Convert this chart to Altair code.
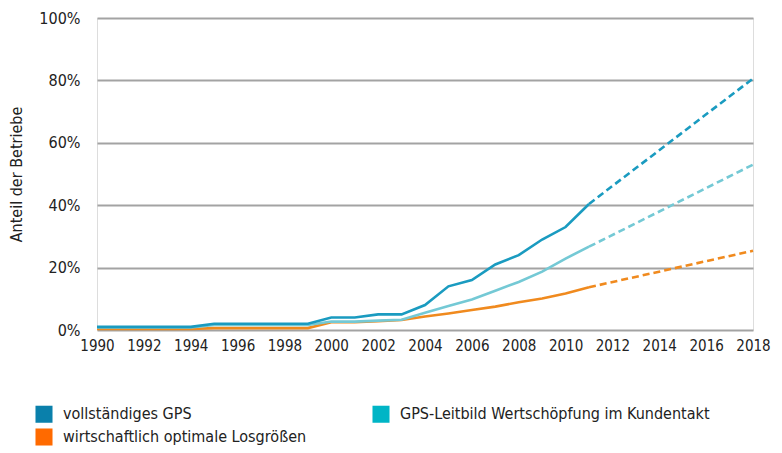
import altair as alt
import pandas as pd

years = list(range(1990, 2012))
gps_full = [1, 1, 1, 1, 1, 2, 2, 2, 2, 2, 4, 4, 5, 5, 8, 14, 16, 21, 24, 29, 33, 40.4]
gps_leit = [0.8, 0.8, 0.8, 0.8, 0.8, 1.6, 1.6, 1.6, 1.6, 1.6, 2.7, 2.7, 3.0, 3.3, 5.5, 7.7, 9.8, 12.6, 15.4, 18.7, 22.9, 26.7]
los = [0.3, 0.3, 0.3, 0.3, 0.3, 0.6, 0.6, 0.6, 0.6, 0.6, 2.5, 2.5, 2.8, 3.2, 4.3, 5.3, 6.4, 7.5, 8.9, 10.1, 11.7, 13.7]

proj_years = [2011, 2018]
gps_full_proj = [40.4, 80.6]
gps_leit_proj = [26.7, 53.0]
los_proj = [13.7, 25.4]

series = ["vollständiges GPS", "GPS-Leitbild Wertschöpfung im Kundentakt", "wirtschaftlich optimale Losgrößen"]
line_colors = ["#1a9bc0", "#74c9d5", "#f08a1e"]
swatch_colors = ["#0a80ab", "#00b5c6", "#ff6a00"]

rows = []
for name, vals in zip(series, [gps_full, gps_leit, los]):
    for y, v in zip(years, vals):
        rows.append({"year": y, "value": v, "series": name, "seg": "hist"})
for name, vals in zip(series, [gps_full_proj, gps_leit_proj, los_proj]):
    for y, v in zip(proj_years, vals):
        rows.append({"year": y, "value": v, "series": name, "seg": "proj"})
df = pd.DataFrame(rows)

FONT = "'DejaVu Sans Condensed', 'Roboto Condensed', 'Liberation Sans Narrow', Roboto, sans-serif"
FS = 16

x_enc = alt.X("year:Q", scale=alt.Scale(domain=[1990, 2018], nice=False, zero=False),
              axis=alt.Axis(values=list(range(1990, 2019, 2)), format="d", title=None,
                            grid=False, domain=False, ticks=False, labelPadding=8,
                            labelFontSize=15, labelFont=FONT, labelColor="#222",
                            labelFlush=False, labelOverlap=False))
y_enc = alt.Y("value:Q", scale=alt.Scale(domain=[0, 100], nice=False),
              axis=alt.Axis(values=[0, 20, 40, 60, 80, 100], labelExpr="datum.value + '%'",
                            title="Anteil der Betriebe", titleFontSize=FS, titleFont=FONT,
                            titleFontWeight="normal", titleColor="#222", titlePadding=14,
                            labelFontSize=FS, labelFont=FONT, labelColor="#222", labelPadding=17,
                            grid=True, gridColor="#a3a3a3", gridWidth=2.2,
                            domain=False, ticks=False))
stroke_enc = alt.Stroke("series:N", scale=alt.Scale(domain=series, range=line_colors), legend=None)

layers = []
for name in reversed(series):
    base = alt.Chart(df).transform_filter(alt.datum.series == name)
    layers.append(base.transform_filter(alt.datum.seg == "hist").mark_line(strokeWidth=2.6).encode(
        x=x_enc, y=y_enc, stroke=stroke_enc))
    layers.append(base.transform_filter(alt.datum.seg == "proj").mark_line(strokeWidth=2.6, strokeDash=[7, 4]).encode(
        x=x_enc, y=y_enc, stroke=stroke_enc))

legend_layer = alt.Chart(df).mark_point(opacity=0, shape="square").encode(
    x=x_enc, y=y_enc,
    fill=alt.Fill("series:N", scale=alt.Scale(domain=series, range=swatch_colors),
                  legend=alt.Legend(title=None, orient="none", legendX=-62, legendY=387,
                                    columns=2, direction="horizontal", symbolType="square",
                                    symbolSize=290, symbolOpacity=1, symbolStrokeWidth=0,
                                    labelFont=FONT, labelFontSize=FS, labelColor="#222",
                                    labelLimit=400, columnPadding=65, rowPadding=5,
                                    labelOffset=10)))

chart = alt.layer(legend_layer, *layers).properties(
    width=656, height=312, autosize=alt.AutoSizeParams(type="none"),
    padding={"left": 89, "top": 10, "right": 21, "bottom": 120}
).configure_view(stroke=None).configure(background="white")

chart.save("out.html", embed_options={"renderer": "svg", "actions": False})
